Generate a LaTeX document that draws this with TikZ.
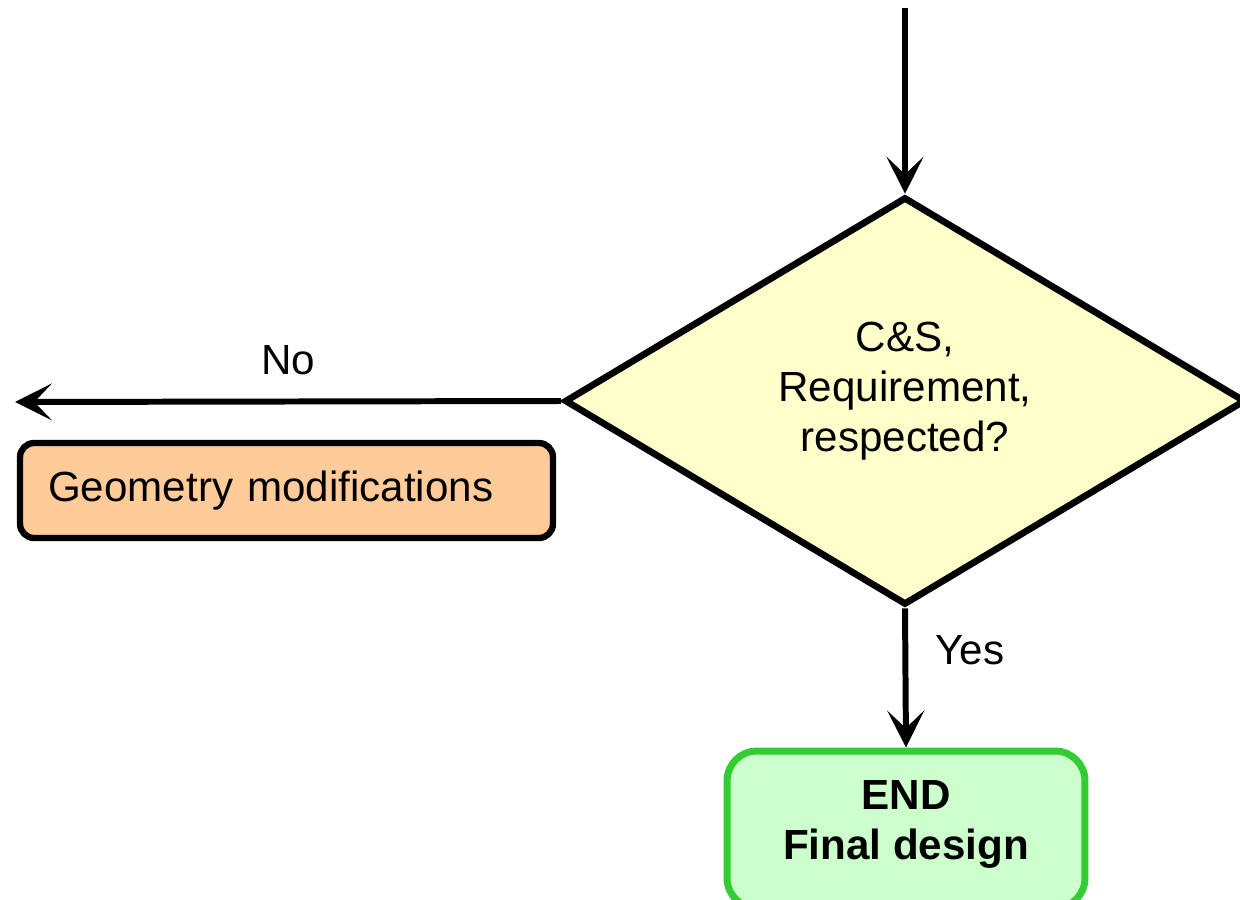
\documentclass[tikz,border=0pt]{standalone}
\usepackage{fontspec}
\setmainfont{Liberation Sans}
\usetikzlibrary{shapes.geometric,arrows.meta}
\definecolor{dfill}{HTML}{FFFFCC}
\definecolor{ofill}{HTML}{FFCC99}
\definecolor{gfill}{HTML}{CCFFCC}
\definecolor{gdraw}{HTML}{33CC33}
\tikzset{
  txt/.style={font=\fontsize{24pt}{28.4pt}\selectfont},
  arr/.style={line width=3.4pt,-{Stealth[length=21pt,width=21pt,inset=10pt]}},
  decision/.style={diamond,draw=black,line width=3.8pt,fill=dfill,inner sep=0pt,
    minimum width=13.62cm,minimum height=8.16cm},
  procbox/.style={rectangle,rounded corners=8pt,draw=black,line width=3.6pt,fill=ofill,
    inner xsep=0.56cm,inner ysep=0pt,text width=9.54cm,minimum height=1.9cm,align=left,txt},
  endbox/.style={rectangle,rounded corners=17pt,draw=gdraw,line width=4pt,fill=gfill,
    minimum width=7.16cm,minimum height=3.14cm},
  lbl/.style={txt,inner sep=0pt}
}
\begin{document}
\begin{tikzpicture}[x=0.02cm,y=-0.02cm]
\useasboundingbox (0,0) rectangle (1240,899);
\node[decision,label={[txt,align=center,inner sep=0pt,yshift=5.5pt]center:C\&S,\\Requirement,\\respected?}] (dec) at (905,401) {};
\node[procbox] (geo) at (286.5,490.5) {Geometry modifications};
\node[endbox,label={[font=\bfseries\fontsize{24pt}{28.4pt}\selectfont,align=center,inner sep=0pt,yshift=2.8pt]center:END\\Final design}] (end) at (906,829.5) {};
\coordinate (top) at (905,8);
\coordinate (left) at (15,402);
\draw[arr] (top) -- (dec.north);
\draw[arr] (dec.west) -- (left);
\draw[arr] (dec.south) -- (end.north);
\node[lbl] (no) at (288,360) {No};
\node[lbl] (yes) at (970,650) {Yes};
\end{tikzpicture}
\end{document}
